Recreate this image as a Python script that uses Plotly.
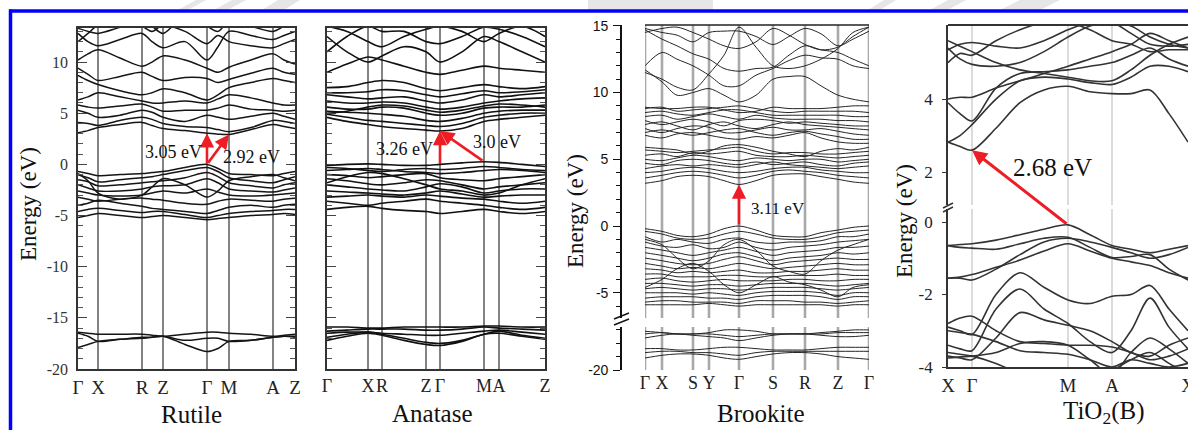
import plotly.graph_objects as go

W, H = 1188, 430

# ---------------- Rutile ----------------
rutile_path = ["Γ", "X", "R", "Z", "Γ", "M", "A", "Z"]
rutile_path_k = [0, 20, 64, 85, 129, 151, 195, 217]
rutile_k = [0, 10, 20, 42, 64, 74, 85, 107, 129, 140, 151, 173, 195, 206, 217]
rutile_cb = [
    [3.1, 3.3, 3.6, 3.9, 4.1, 3.8, 3.5, 3.3, 3.05, 2.95, 2.92, 3.4, 3.9, 3.7, 3.5],
    [4.1, 4.0, 3.8, 4.3, 4.6, 4.4, 4.0, 3.7, 3.6, 3.4, 3.2, 3.6, 4.3, 4.2, 4.0],
    [5.3, 5.0, 4.6, 4.8, 5.3, 5.1, 4.6, 4.2, 4.8, 4.6, 4.4, 4.7, 5.0, 4.7, 4.4],
    [5.8, 5.6, 5.5, 5.7, 5.9, 5.6, 5.2, 5.3, 5.3, 5.5, 5.8, 5.4, 5.3, 5.2, 5.3],
    [6.3, 6.6, 7.0, 6.6, 6.2, 6.0, 6.0, 6.2, 6.0, 6.4, 6.8, 6.5, 6.0, 5.8, 5.8],
    [8.7, 8.2, 7.8, 7.2, 6.8, 7.0, 7.4, 7.0, 6.3, 6.8, 7.5, 8.0, 8.4, 8.2, 8.0],
    [9.4, 8.8, 8.2, 8.6, 9.0, 8.6, 8.2, 8.5, 8.4, 8.0, 8.3, 8.9, 9.4, 9.0, 8.8],
    [10.2, 10.8, 11.2, 10.4, 9.6, 10.0, 10.6, 10.2, 9.4, 9.0, 9.5, 10.2, 10.8, 10.2, 9.8],
    [12.8, 12.0, 11.6, 12.2, 12.8, 12.0, 11.4, 12.0, 10.2, 11.5, 13.0, 12.6, 12.2, 12.6, 13.0],
    [13.3, 13.0, 12.8, 13.4, 14.0, 13.5, 12.8, 14.5, 13.5, 13.0, 14.0, 13.5, 13.0, 13.5, 14.0],
    [12.0, 12.8, 13.6, 14.0, 13.5, 13.0, 13.6, 13.0, 11.8, 12.6, 12.0, 11.6, 11.4, 11.8, 12.2],
]
rutile_vb = [
    [-0.7, -0.9, -1.1, -1.0, -0.9, -0.8, -0.7, -0.3, 0.0, -0.4, -0.9, -1.0, -1.1, -0.9, -0.7],
    [-1.0, -1.3, -1.7, -1.5, -1.3, -1.2, -1.0, -0.6, -0.3, -0.7, -1.3, -1.6, -1.8, -1.5, -1.2],
    [-1.5, -1.7, -2.1, -2.0, -1.8, -1.7, -1.6, -1.3, -0.8, -1.2, -1.8, -2.1, -2.3, -2.0, -1.8],
    [-2.0, -2.3, -2.6, -2.6, -2.4, -2.2, -2.1, -2.0, -1.4, -1.8, -2.4, -2.6, -2.7, -2.5, -2.3],
    [-2.6, -2.8, -3.0, -3.1, -3.0, -2.8, -2.6, -2.8, -2.4, -2.7, -3.0, -3.1, -3.0, -2.9, -2.8],
    [-3.2, -3.4, -3.6, -3.4, -3.3, -3.4, -3.5, -3.8, -3.9, -3.6, -3.4, -3.5, -3.6, -3.4, -3.3],
    [-4.0, -3.8, -3.5, -3.8, -4.1, -4.3, -4.4, -4.6, -4.8, -4.5, -4.2, -4.0, -4.2, -4.0, -3.9],
    [-4.6, -4.4, -4.3, -4.5, -4.7, -4.6, -4.6, -4.9, -5.2, -5.0, -4.8, -4.6, -4.5, -4.4, -4.4],
    [-5.2, -5.0, -4.8, -5.0, -5.2, -5.1, -5.0, -5.2, -5.4, -5.3, -5.2, -5.0, -4.9, -4.8, -4.9],
    [-0.9, -1.6, -2.8, -3.4, -3.0, -2.2, -1.4, -2.0, -3.2, -2.6, -1.6, -1.2, -1.0, -1.3, -1.6],
]
rutile_o2s = [
    [-16.4, -16.5, -16.6, -16.6, -16.6, -16.7, -16.8, -16.6, -16.4, -16.4, -16.5, -16.6, -16.8, -16.7, -16.6],
    [-16.5, -16.8, -17.3, -17.1, -16.9, -16.9, -16.8, -17.2, -17.0, -17.0, -17.3, -17.2, -16.9, -16.8, -16.8],
    [-17.9, -17.6, -17.3, -17.1, -17.0, -16.9, -16.8, -17.6, -18.3, -18.0, -17.3, -17.2, -16.9, -16.8, -16.9],
]
rutile_vbm = 0.0          # at Γ
rutile_cb_gamma = 3.05
rutile_cb_m = 2.92

# ---------------- Anatase ----------------
anatase_path = ["Γ", "X", "R", "Z", "Γ", "M", "A", "Z"]
anatase_path_k = [0, 41, 55, 99, 113, 157, 172, 218]
anatase_k = [0, 20, 41, 55, 77, 99, 113, 135, 157, 172, 195, 218]
anatase_cb = [
    [4.6, 4.2, 3.9, 3.7, 3.5, 3.35, 3.26, 3.5, 4.2, 4.4, 4.6, 4.8],
    [4.9, 4.6, 4.3, 4.2, 4.0, 3.8, 3.7, 4.0, 4.6, 4.8, 5.0, 5.0],
    [5.2, 5.1, 5.0, 4.9, 4.7, 4.3, 4.2, 4.5, 5.0, 5.2, 5.3, 5.3],
    [5.6, 5.4, 5.4, 5.6, 5.5, 5.0, 4.8, 5.0, 5.5, 5.6, 5.6, 5.8],
    [5.0, 5.2, 5.6, 5.8, 5.7, 5.3, 5.1, 5.3, 5.7, 5.9, 5.8, 5.6],
    [6.2, 6.0, 6.0, 6.1, 6.0, 5.6, 5.4, 5.6, 6.0, 6.2, 6.4, 6.5],
    [6.8, 6.6, 6.4, 6.5, 6.6, 6.2, 6.0, 6.3, 6.8, 6.6, 6.8, 7.0],
    [7.0, 7.0, 7.1, 7.3, 7.2, 6.8, 6.6, 6.9, 7.2, 7.0, 7.1, 7.3],
    [7.5, 7.6, 8.0, 8.2, 8.0, 7.4, 7.2, 7.5, 7.8, 7.6, 7.4, 7.6],
    [9.0, 9.8, 10.5, 10.2, 9.6, 9.0, 8.8, 9.2, 9.6, 9.4, 9.2, 9.0],
    [12.5, 11.0, 10.0, 10.6, 11.5, 11.0, 10.0, 11.0, 12.5, 12.0, 11.0, 10.0],
    [13.5, 13.0, 12.0, 11.5, 12.5, 13.2, 13.5, 13.0, 12.0, 12.8, 13.5, 12.5],
    [11.0, 12.5, 13.5, 13.0, 13.0, 12.0, 11.8, 12.5, 13.4, 13.2, 12.5, 11.5],
]
anatase_vb = [
    [-0.1, 0.0, 0.05, 0.0, -0.1, -0.1, 0.0, 0.15, 0.26, 0.2, 0.0, -0.2],
    [-0.3, -0.4, -0.6, -0.7, -0.5, -0.4, -0.5, -0.4, -0.2, -0.3, -0.5, -0.6],
    [-0.6, -0.5, -0.4, -0.5, -0.7, -0.8, -0.9, -0.8, -0.6, -0.5, -0.6, -0.8],
    [-1.0, -1.1, -1.3, -1.2, -1.0, -0.9, -1.3, -1.5, -1.6, -1.4, -1.2, -1.0],
    [-1.4, -1.6, -1.9, -2.0, -1.8, -1.5, -1.6, -2.0, -2.4, -2.2, -2.0, -1.8],
    [-2.0, -2.2, -2.4, -2.5, -2.6, -2.2, -1.9, -2.2, -2.8, -2.6, -2.4, -2.4],
    [-2.6, -2.7, -2.8, -2.9, -3.0, -2.8, -2.6, -2.9, -3.2, -3.1, -3.0, -3.0],
    [-3.2, -3.1, -3.0, -3.1, -3.2, -3.0, -3.1, -3.3, -3.4, -3.6, -3.8, -3.6],
    [-3.6, -3.8, -4.0, -3.8, -3.6, -3.4, -3.6, -3.8, -4.0, -4.2, -4.4, -4.2],
    [-4.4, -4.2, -4.1, -4.3, -4.5, -4.6, -4.8, -4.6, -4.4, -4.6, -4.8, -4.6],
    [-1.8, -1.2, -0.8, -0.9, -1.4, -2.0, -2.4, -2.6, -3.0, -2.8, -2.0, -1.4],
]
anatase_o2s = [
    [-15.9, -15.9, -16.0, -16.0, -15.9, -15.9, -15.9, -15.9, -15.8, -15.8, -15.9, -15.9],
    [-16.3, -16.2, -16.1, -16.1, -16.1, -16.2, -16.2, -16.1, -15.9, -16.0, -16.1, -16.2],
    [-16.5, -16.4, -16.4, -16.5, -16.6, -16.7, -16.7, -16.5, -16.3, -16.2, -16.4, -16.6],
    [-16.9, -16.6, -16.4, -16.6, -17.0, -17.4, -17.5, -17.2, -16.6, -16.3, -16.7, -17.0],
    [-17.2, -16.8, -16.5, -16.7, -17.2, -17.6, -17.7, -17.3, -16.6, -16.5, -16.8, -17.1],
]
anatase_cbm = 3.26        # at Γ
anatase_vb_gamma = 0.0
anatase_vb_m = 0.26

# ---------------- Brookite ----------------
brookite_path = ["Γ", "X", "S", "Y", "Γ", "S", "R", "Z", "Γ"]
brookite_path_k = [0, 17, 48, 64, 94, 128, 160, 193, 224]
brookite_k = [0, 17, 32, 48, 64, 79, 94, 111, 128, 144, 160, 176, 193, 208, 224]
brookite_cb = [
    [3.2, 3.4, 3.7, 3.8, 3.7, 3.4, 3.11, 3.4, 3.8, 3.9, 3.9, 3.7, 3.5, 3.3, 3.2],
    [3.6, 3.8, 4.0, 4.1, 4.0, 3.8, 3.6, 3.8, 4.1, 4.2, 4.1, 4.0, 3.8, 3.7, 3.6],
    [4.0, 4.1, 4.3, 4.4, 4.3, 4.1, 4.0, 4.1, 4.3, 4.4, 4.4, 4.2, 4.1, 4.0, 4.0],
    [4.3, 4.5, 4.6, 4.5, 4.6, 4.5, 4.4, 4.6, 4.8, 4.6, 4.5, 4.4, 4.3, 4.4, 4.5],
    [4.7, 4.6, 4.9, 5.0, 4.9, 4.7, 4.6, 4.8, 4.6, 4.7, 4.8, 4.6, 4.5, 4.7, 4.8],
    [5.0, 4.9, 5.1, 5.3, 5.2, 5.0, 4.9, 5.1, 5.0, 4.9, 5.0, 5.0, 4.8, 4.9, 5.0],
    [5.3, 5.4, 5.2, 5.5, 5.4, 5.5, 5.6, 5.3, 5.2, 5.2, 5.3, 5.2, 5.1, 5.2, 5.3],
    [5.7, 5.6, 5.5, 5.6, 5.7, 5.8, 5.9, 5.6, 5.4, 5.5, 5.5, 5.4, 5.4, 5.5, 5.6],
    [5.9, 5.8, 5.7, 5.4, 5.6, 6.0, 6.1, 5.9, 5.6, 5.4, 5.2, 5.6, 5.8, 5.7, 5.9],
    [6.8, 6.6, 6.9, 7.0, 6.8, 6.6, 6.5, 6.7, 6.6, 6.8, 7.0, 6.6, 6.3, 6.2, 6.2],
    [7.0, 7.2, 7.0, 6.8, 7.0, 7.2, 7.3, 7.0, 6.8, 7.0, 7.1, 6.9, 6.7, 6.5, 6.5],
    [7.3, 7.0, 7.3, 7.5, 7.4, 7.0, 7.0, 7.2, 7.4, 7.2, 7.2, 7.3, 7.1, 6.9, 6.8],
    [7.6, 7.8, 7.5, 7.2, 7.6, 7.8, 7.5, 7.3, 7.6, 7.8, 7.6, 7.5, 7.4, 7.3, 7.2],
    [7.9, 7.6, 7.8, 8.0, 7.8, 7.5, 7.9, 8.0, 7.9, 7.7, 7.8, 7.7, 7.6, 7.5, 7.5],
    [8.2, 8.3, 8.0, 8.2, 8.4, 8.2, 8.0, 8.3, 8.1, 8.0, 8.0, 8.0, 7.9, 7.9, 7.8],
    [8.5, 8.6, 8.4, 8.3, 8.5, 8.7, 8.7, 8.5, 8.3, 8.3, 8.3, 8.3, 8.3, 8.2, 8.2],
    [8.8, 8.9, 8.6, 8.7, 8.8, 8.9, 9.0, 8.8, 8.6, 8.5, 8.6, 8.6, 8.6, 8.6, 8.5],
    [8.9, 8.8, 8.8, 8.9, 8.9, 8.7, 8.5, 8.6, 8.9, 8.8, 8.8, 8.8, 8.9, 9.0, 9.0],
    [11.7, 10.8, 9.8, 10.0, 10.3, 9.8, 9.3, 9.8, 11.0, 11.2, 11.2, 10.5, 9.8, 9.5, 9.3],
    [12.0, 13.0, 12.5, 12.0, 11.3, 10.5, 10.5, 11.3, 11.8, 12.4, 12.8, 12.6, 12.5, 12.0, 11.8],
    [14.7, 14.0, 13.5, 12.9, 12.5, 11.8, 11.6, 11.8, 11.9, 12.8, 13.5, 13.2, 13.0, 12.5, 12.0],
    [14.8, 14.5, 14.3, 13.8, 14.5, 14.6, 14.6, 14.2, 13.6, 14.2, 14.8, 14.4, 13.5, 14.0, 14.6],
    [14.5, 14.8, 14.9, 14.5, 14.0, 13.5, 13.3, 13.8, 14.8, 14.3, 13.6, 13.2, 13.4, 14.2, 14.9],
    [11.5, 11.0, 10.4, 10.2, 11.4, 12.8, 14.9, 13.4, 12.0, 11.8, 12.0, 12.5, 13.3, 14.5, 14.9],
]
brookite_vb = [
    [-0.2, -0.4, -0.7, -0.8, -0.6, -0.2, 0.0, -0.3, -0.7, -0.8, -0.8, -0.5, -0.3, -0.1, 0.0],
    [-0.4, -0.6, -0.9, -1.0, -0.9, -0.6, -0.4, -0.6, -0.9, -1.0, -1.0, -0.8, -0.5, -0.4, -0.3],
    [-0.8, -1.2, -1.0, -1.2, -1.3, -1.0, -0.9, -1.2, -1.3, -1.2, -1.2, -1.1, -0.8, -0.8, -0.6],
    [-1.2, -1.5, -1.6, -1.4, -1.7, -1.6, -1.2, -1.6, -1.8, -1.6, -1.5, -1.4, -1.2, -1.1, -1.0],
    [-1.6, -1.8, -2.0, -2.2, -2.0, -1.8, -1.6, -1.9, -2.2, -2.0, -1.9, -1.8, -1.6, -1.6, -1.5],
    [-2.0, -2.2, -2.4, -2.6, -2.4, -2.1, -2.0, -2.3, -2.6, -2.4, -2.3, -2.2, -2.0, -2.1, -2.0],
    [-2.4, -2.6, -2.8, -2.9, -2.8, -2.5, -2.3, -2.6, -2.9, -2.7, -2.6, -2.5, -2.4, -2.5, -2.5],
    [-2.8, -3.0, -3.2, -3.1, -3.2, -3.0, -2.8, -3.0, -3.2, -3.1, -3.0, -2.9, -2.8, -2.9, -2.9],
    [-3.2, -3.3, -3.5, -3.4, -3.5, -3.4, -3.3, -3.5, -3.5, -3.4, -3.4, -3.3, -3.2, -3.3, -3.3],
    [-3.6, -3.6, -3.8, -3.8, -3.8, -3.7, -3.7, -3.8, -3.8, -3.7, -3.7, -3.7, -3.6, -3.7, -3.7],
    [-4.0, -3.9, -4.1, -4.2, -4.1, -4.0, -4.1, -4.1, -4.1, -4.0, -4.0, -4.1, -4.1, -4.0, -4.0],
    [-4.3, -4.3, -4.4, -4.5, -4.4, -4.4, -4.5, -4.4, -4.3, -4.3, -4.3, -4.4, -4.5, -4.4, -4.3],
    [-4.7, -4.6, -4.7, -4.8, -4.7, -4.7, -4.8, -4.7, -4.6, -4.6, -4.6, -4.7, -4.8, -4.7, -4.6],
    [-5.0, -5.0, -5.0, -5.1, -5.0, -5.1, -5.2, -5.0, -4.9, -4.9, -4.9, -5.0, -5.2, -5.0, -5.0],
    [-5.4, -5.3, -5.3, -5.3, -5.4, -5.4, -5.5, -5.3, -5.2, -5.2, -5.2, -5.3, -5.5, -5.3, -5.3],
    [-5.7, -5.6, -5.6, -5.7, -5.7, -5.7, -5.8, -5.6, -5.6, -5.6, -5.7, -5.7, -5.8, -5.7, -5.6],
    [-5.9, -5.9, -5.9, -5.9, -5.8, -5.9, -6.0, -5.9, -5.9, -5.9, -5.9, -5.9, -6.0, -5.9, -5.9],
    [-1.0, -1.4, -2.4, -3.2, -2.6, -1.4, -1.0, -1.8, -3.0, -3.4, -3.6, -2.6, -1.8, -1.4, -1.0],
    [-4.6, -4.0, -3.2, -2.8, -3.4, -4.4, -5.0, -4.4, -3.8, -4.2, -4.4, -4.8, -5.3, -4.6, -4.4],
]
brookite_o2s = [
    [-17.1, -17.2, -17.3, -17.3, -17.2, -17.0, -17.0, -17.1, -17.3, -17.3, -17.3, -17.2, -17.1, -17.0, -17.0],
    [-17.3, -17.2, -17.3, -17.3, -17.3, -17.4, -17.5, -17.4, -17.3, -17.3, -17.3, -17.3, -17.2, -17.2, -17.2],
    [-17.6, -17.4, -17.3, -17.4, -17.5, -17.6, -17.8, -17.6, -17.4, -17.3, -17.3, -17.4, -17.5, -17.5, -17.4],
    [-18.4, -18.4, -18.5, -18.5, -18.4, -18.3, -18.3, -18.4, -18.5, -18.5, -18.5, -18.4, -18.3, -18.3, -18.3],
    [-18.7, -18.6, -18.6, -18.7, -18.7, -18.8, -18.9, -18.7, -18.6, -18.6, -18.6, -18.6, -18.6, -18.6, -18.6],
    [-19.1, -18.9, -18.8, -18.8, -18.9, -19.1, -19.2, -19.0, -18.8, -18.7, -18.7, -18.8, -19.0, -19.1, -19.2],
]
brookite_cbm = 3.11
brookite_vbm = 0.0

# ---------------- TiO2(B) ----------------
tio2b_path = ["X", "Γ", "M", "A", "X"]
tio2b_path_k = [0, 24, 120, 164, 240]
tio2b_k = [0, 12, 24, 48, 72, 96, 120, 142, 164, 183, 202, 221, 240]
tio2b_cb = [
    [2.82, 2.7, 2.6, 3.2, 3.9, 4.25, 4.35, 4.2, 4.15, 4.15, 4.25, 3.6, 2.82],
    [2.82, 3.0, 3.3, 4.0, 4.5, 4.6, 4.55, 4.45, 4.4, 4.6, 4.9, 4.9, 4.75],
    [3.9, 3.6, 3.4, 4.3, 4.7, 4.75, 4.8, 4.9, 5.0, 5.2, 5.4, 5.1, 4.9],
    [4.0, 4.05, 4.05, 4.3, 4.5, 4.7, 4.9, 5.1, 5.3, 5.5, 5.8, 5.6, 5.4],
    [5.4, 5.1, 4.95, 4.9, 5.0, 5.3, 5.7, 6.0, 6.1, 6.0, 5.7, 5.5, 5.4],
    [5.35, 5.5, 5.55, 5.45, 5.4, 5.6, 5.9, 6.1, 6.1, 5.8, 5.5, 5.45, 5.5],
    [5.0, 5.25, 5.2, 5.6, 5.9, 6.1, 6.1, 5.9, 5.6, 5.5, 5.3, 5.35, 5.35],
    [5.6, 5.45, 5.3, 5.0, 4.8, 4.7, 4.6, 4.5, 4.5, 4.8, 5.2, 5.5, 5.7],
]
tio2b_vb = [
    [-0.65, -0.62, -0.6, -0.5, -0.35, -0.2, -0.08, -0.35, -0.65, -0.75, -0.85, -0.75, -0.65],
    [-0.65, -0.7, -0.72, -0.75, -0.6, -0.45, -0.42, -0.7, -0.98, -0.95, -0.9, -1.3, -1.6],
    [-1.55, -1.55, -1.6, -1.3, -0.9, -0.55, -0.45, -0.55, -0.7, -0.85, -1.0, -0.9, -0.7],
    [-1.55, -1.52, -1.45, -1.25, -1.05, -0.8, -0.6, -0.8, -1.0, -1.1, -1.2, -1.4, -1.55],
    [-2.9, -3.0, -3.1, -2.0, -1.4, -1.8, -2.15, -2.25, -2.05, -2.0, -1.75, -2.4, -3.0],
    [-3.4, -3.5, -3.55, -2.4, -1.85, -2.4, -2.8, -3.3, -3.6, -3.0, -2.1, -2.9, -3.5],
    [-3.7, -3.75, -3.8, -3.2, -2.5, -2.7, -2.85, -3.0, -3.3, -3.6, -3.7, -3.4, -3.2],
    [-2.8, -2.65, -2.6, -3.0, -3.3, -3.35, -3.4, -3.4, -3.45, -3.6, -3.8, -3.7, -3.5],
    [-3.0, -3.05, -3.1, -3.3, -3.55, -3.6, -3.65, -3.8, -4.0, -3.8, -3.9, -4.0, -3.9],
    [-3.6, -3.65, -3.7, -3.9, -4.2, -4.5, -4.6, -4.4, -4.1, -3.8, -3.6, -3.9, -4.2],
    [-3.75, -3.72, -3.7, -3.6, -3.35, -3.3, -3.4, -3.8, -4.2, -3.6, -3.2, -3.5, -3.9],
]
tio2b_cbm = 2.60          # at Γ
tio2b_vbm = -0.08         # at M

# Energy tick values per panel
rutile_ticks = [-20, -15, -10, -5, 0, 5, 10]
brookite_ticks_upper = [-5, 0, 5, 10, 15]
brookite_ticks_lower = [-20]
tio2b_ticks_upper = [2, 4]
tio2b_ticks_lower = [-4, -2, 0]

SERIF = "Liberation Serif"
SANS = "Liberation Sans"
RED = "#ee1c25"


def fx(p):
    return p / W


def fy(p):
    return 1 - p / H


fig = go.Figure()


def add_bands(bands, k, xa, ya, color, width):
    for e in bands:
        fig.add_trace(go.Scatter(
            x=k, y=e, mode="lines", xaxis=xa, yaxis=ya,
            line=dict(color=color, width=width, shape="spline", smoothing=0.9),
            hoverinfo="skip", showlegend=False))


add_bands(rutile_cb + rutile_vb + rutile_o2s, rutile_k, "x", "y", "#151515", 1.5)
add_bands(anatase_cb + anatase_vb + anatase_o2s, anatase_k, "x2", "y2", "#111111", 1.6)
add_bands(brookite_cb + brookite_vb, brookite_k, "x3", "y3", "#262626", 1.0)
add_bands(brookite_o2s, brookite_k, "x3", "y4", "#262626", 1.0)
add_bands(tio2b_cb, tio2b_k, "x4", "y5", "#333333", 1.6)
add_bands(tio2b_vb, tio2b_k, "x4", "y6", "#333333", 1.6)

# ---- axes ----
RUT_RANGE = [-20, 13.33]
BRK_UP = [-6.89, 15.06]
BRK_LO = [-20, -16.78]
TB_UP = [1.096, 6.03]
TB_LO = [-4, 0.359]
TB_K = [0, 240]
BRK_UP_DOM = [fy(318), fy(25)]
BRK_LO_DOM = [fy(370), fy(327)]
TB_UP_DOM = [fy(205), fy(25)]
TB_LO_DOM = [fy(367), fy(209)]
TB_X_DOM = [fx(948), 1.0]


def kaxis(domain, rng, anchor, ticks_k, labels, box, size=19, standoff=0):
    return dict(domain=domain, range=rng, anchor=anchor, tickvals=ticks_k,
                ticktext=labels, ticks="", showgrid=False, zeroline=False,
                showline=box, mirror=box, linecolor="#333", linewidth=1.6,
                tickangle=0, automargin=False, ticklabeloverflow="allow",
                tickfont=dict(family=SERIF, size=size, color="#222"),
                ticklabelstandoff=standoff, fixedrange=True)


def boxed_energy_axis(domain, anchor, labels):
    return dict(domain=domain, range=RUT_RANGE, anchor=anchor, automargin=False,
                tickvals=rutile_ticks, ticktext=[str(v) for v in rutile_ticks],
                showticklabels=labels, ticks="inside", ticklen=9, tickwidth=1.3,
                tickcolor="#444", minor=dict(dtick=1, tick0=0, ticks="inside", ticklen=5,
                                             tickwidth=1, tickcolor="#555"),
                mirror="ticks", showline=True, linecolor="#333", linewidth=1.6,
                showgrid=False, zeroline=False, ticklabelstandoff=5,
                tickfont=dict(family=SERIF, size=16, color="#333"), fixedrange=True)


def free_energy_axis(domain, rng, pos, ticks_vals, font, ticklen, minor):
    d = dict(domain=domain, range=rng, anchor="free", position=pos, automargin=False,
             tickvals=ticks_vals, ticktext=[str(v) for v in ticks_vals],
             ticks="outside", ticklen=ticklen, tickwidth=1.4, tickcolor="#111",
             showline=True, linecolor="#111", linewidth=1.6, showgrid=False,
             zeroline=False, tickfont=font, fixedrange=True, ticklabelstandoff=2)
    if minor:
        d["minor"] = dict(dtick=1, tick0=0, ticks="outside", ticklen=4,
                          tickwidth=1.2, tickcolor="#111")
    return d


def tio2b_energy_axis(domain, rng, ticks_vals):
    return dict(domain=domain, range=rng, anchor="x4", automargin=False,
                tickvals=ticks_vals, ticktext=[str(v) for v in ticks_vals],
                ticks="outside", ticklen=4, tickcolor="#333", showline=True,
                mirror=True, linecolor="#333", linewidth=1.8, showgrid=False,
                zeroline=False, tickfont=dict(family=SERIF, size=17, color="#222"),
                ticklabelstandoff=6, fixedrange=True)


brk_font = dict(family=SANS, size=14, color="#111")

fig.update_layout(
    template="none",
    width=W, height=H, margin=dict(l=0, r=0, t=0, b=0, pad=0),
    paper_bgcolor="white", plot_bgcolor="rgba(0,0,0,0)", showlegend=False,
    xaxis=kaxis([fx(78), fx(295)], [0, 217], "y", rutile_path_k, rutile_path, True),
    yaxis=boxed_energy_axis([fy(369), fy(28)], "x", True),
    xaxis2=kaxis([fx(327), fx(545)], [0, 218], "y2", anatase_path_k, anatase_path, True,
                 size=18),
    yaxis2=boxed_energy_axis([fy(369), fy(28)], "x2", False),
    xaxis3=kaxis([fx(645), fx(869)], [0, 224], "y4", brookite_path_k, brookite_path,
                 False, size=18, standoff=0),
    yaxis3=free_energy_axis(BRK_UP_DOM, BRK_UP, fx(621), brookite_ticks_upper,
                            brk_font, 7, True),
    yaxis4=free_energy_axis(BRK_LO_DOM, BRK_LO, fx(621), brookite_ticks_lower,
                            brk_font, 7, True),
    xaxis4=kaxis(TB_X_DOM, TB_K, "y6", tio2b_path_k, tio2b_path, False),
    yaxis5=tio2b_energy_axis(TB_UP_DOM, TB_UP, tio2b_ticks_upper),
    yaxis6=tio2b_energy_axis(TB_LO_DOM, TB_LO, tio2b_ticks_lower),
)
fig.update_layout(xaxis4=dict(showline=True, linecolor="#333", linewidth=1.8))

shapes = []


def vline(xref, yref, k, color, width):
    shapes.append(dict(type="line", xref=xref, yref=yref, x0=k, x1=k, y0=0, y1=1,
                       line=dict(color=color, width=width), layer="below"))


# high-symmetry k-point lines
for k in rutile_path_k[1:-1]:
    vline("x", "y domain", k, "#5a5a5a", 1.5)
for k in anatase_path_k[1:-1]:
    vline("x2", "y2 domain", k, "#5a5a5a", 1.5)
for k in brookite_path_k:
    vline("x3", "y3 domain", k, "#a9a9a9", 2.6)
    vline("x3", "y4 domain", k, "#a9a9a9", 2.6)
for k in tio2b_path_k[1:-1]:
    vline("x4", "y5 domain", k, "#c4c4c4", 1.2)
    vline("x4", "y6 domain", k, "#c4c4c4", 1.2)

# top frame edges of the Brookite and TiO2(B) panels
shapes.append(dict(type="line", xref="x3", yref="y3 domain", x0=0, x1=224, y0=1, y1=1,
                   line=dict(color="#222", width=1.5)))
shapes.append(dict(type="line", xref="x4", yref="y5 domain", x0=0, x1=240, y0=1, y1=1,
                   line=dict(color="#333", width=1.8)))


def seg(x0, y0, x1, y1, color, width):
    shapes.append(dict(type="line", xref="paper", yref="paper", x0=fx(x0), y0=fy(y0),
                       x1=fx(x1), y1=fy(y1), line=dict(color=color, width=width)))


# axis break marks
seg(614, 319, 629, 313, "#111", 1.5)
seg(614, 325, 629, 319, "#111", 1.5)
seg(943, 208, 953, 203, "#333", 1.4)
seg(943, 212, 953, 207, "#333", 1.4)

# faint light-grey marks along the top margin
for pts in [
    [(178, 10), (196, 0), (206, 0), (188, 10)],
    [(214, 10), (232, 0), (246, 0), (228, 10)],
    [(262, 10), (278, 0), (300, 0), (284, 10)],
    [(588, 10), (588, 0), (713, 0), (713, 10)],
    [(868, 10), (884, 0), (896, 0), (880, 10)],
    [(930, 10), (948, 0), (966, 0), (948, 10)],
    [(1000, 10), (1020, 0), (1060, 0), (1040, 10)],
]:
    path = "M " + " L ".join(f"{fx(a):.5f},{fy(b):.5f}" for a, b in pts) + " Z"
    shapes.append(dict(type="path", xref="paper", yref="paper", path=path,
                       fillcolor="#e6e6e6", line=dict(width=0), layer="below"))

# blue frame
seg(9, 11, 1188, 11, "#0000ff", 3.5)
seg(10.5, 9.5, 10.5, 430, "#0000ff", 3.5)

fig.update_layout(shapes=shapes)

annotations = []


def text(x, y, s, size, angle=0, color="#111"):
    annotations.append(dict(x=fx(x), y=fy(y), xref="paper", yref="paper", text=s,
                            showarrow=False, textangle=angle, xanchor="center",
                            yanchor="middle", font=dict(family=SERIF, size=size, color=color)))


def arrow(xr, yr, x, y, ax, ay, width=2.6):
    annotations.append(dict(x=x, y=y, xref=xr, yref=yr, ax=ax, ay=ay, axref=xr, ayref=yr,
                            text="", showarrow=True, arrowhead=2, arrowsize=1.1,
                            arrowwidth=width, arrowcolor=RED, standoff=0))


# axis titles
text(28, 204, "Energy (eV)", 23, -90)
text(575, 211, "Energy (eV)", 23, -90)
text(905, 221, "Energy (eV)", 23, -90)
text(191, 414, "Rutile", 25)
text(432, 413, "Anatase", 25)
text(761, 413, "Brookite", 25)
text(1103, 412, "TiO<sub>2</sub>(B)", 25)

# Rutile gaps
g_r = rutile_path_k[4]
arrow("x", "y", g_r, rutile_cb_gamma, g_r, rutile_vbm)
arrow("x", "y", rutile_path_k[5], rutile_cb_m, g_r, rutile_vbm)
text(173, 152, f"{rutile_cb_gamma - rutile_vbm:.2f} eV", 18)
text(251, 157, f"{rutile_cb_m - rutile_vbm:.2f} eV", 18)

# Anatase gaps
g_a = anatase_path_k[4]
arrow("x2", "y2", g_a, anatase_cbm, g_a, anatase_vb_gamma)
arrow("x2", "y2", g_a, anatase_cbm, anatase_path_k[5], anatase_vb_m)
text(405, 149, f"{anatase_cbm - anatase_vb_gamma:.2f} eV", 18)
text(497, 142, f"{anatase_cbm - anatase_vb_m:.1f} eV", 18)

# Brookite gap
g_b = brookite_path_k[4]
arrow("x3", "y3", g_b, brookite_cbm, g_b, brookite_vbm)
text(778, 209, f"{brookite_cbm - brookite_vbm:.2f} eV", 17)


# TiO2(B) gap: the tail sits on the lower (broken) energy axis, so its
# offset is worked out in pixels from both axis mappings
def to_px_x(k, dom, rng):
    return (dom[0] + (k - rng[0]) / (rng[1] - rng[0]) * (dom[1] - dom[0])) * W


def to_px_y(e, dom, rng):
    return (1 - (dom[0] + (e - rng[0]) / (rng[1] - rng[0]) * (dom[1] - dom[0]))) * H


hx = to_px_x(tio2b_path_k[1], TB_X_DOM, TB_K)
hy = to_px_y(tio2b_cbm, TB_UP_DOM, TB_UP)
tx = to_px_x(tio2b_path_k[2], TB_X_DOM, TB_K)
ty = to_px_y(tio2b_vbm, TB_LO_DOM, TB_LO)
annotations.append(dict(x=tio2b_path_k[1], y=tio2b_cbm, xref="x4", yref="y5",
                        ax=tx - hx, ay=ty - hy, text="", showarrow=True, arrowhead=2,
                        arrowsize=1.0, arrowwidth=3, arrowcolor=RED, standoff=0))
text(1052, 168, f"{tio2b_cbm - tio2b_vbm:.2f} eV", 25)

fig.update_layout(annotations=annotations)

fig.write_html("out.html")
